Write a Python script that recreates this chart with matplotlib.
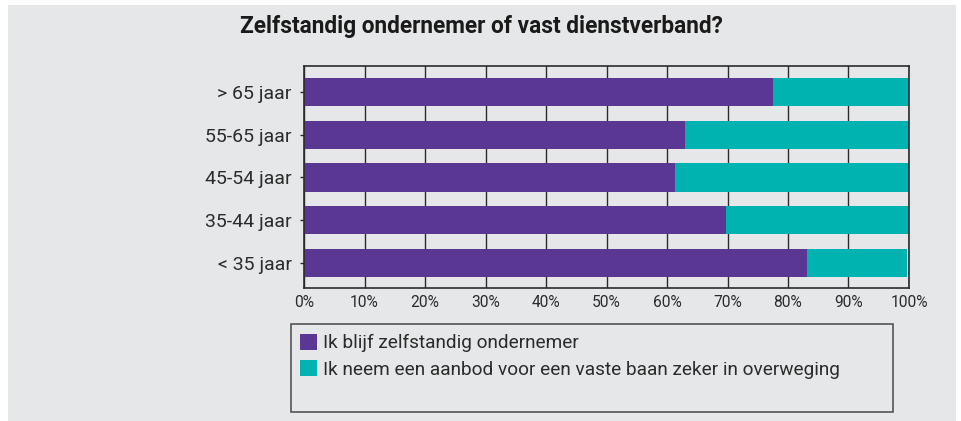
import matplotlib
matplotlib.use("Agg")
import matplotlib.pyplot as plt
from matplotlib.patches import Rectangle, Patch

categories = ["< 35 jaar", "35-44 jaar", "45-54 jaar", "55-65 jaar", "> 65 jaar"]
blijf = [83.1, 69.7, 61.4, 63.0, 77.5]
vaste_baan = [16.6, 30.3, 38.6, 37.0, 22.5]
series_labels = ["Ik blijf zelfstandig ondernemer",
                 "Ik neem een aanbod voor een vaste baan zeker in overweging"]
xticks = [0, 10, 20, 30, 40, 50, 60, 70, 80, 90, 100]
xticklabels = [f"{v}%" for v in xticks]
title = "Zelfstandig ondernemer of vast dienstverband?"

PURPLE = "#5b3794"
TEAL = "#00b2b0"
BG = "#e6e7e8"
DARK = "#2b2b2b"

plt.rcParams['font.family'] = ['Roboto', 'DejaVu Sans']

W, H = 962, 421
fig = plt.figure(figsize=(W / 100, H / 100), dpi=100)
fig.patch.set_facecolor("white")

def fx(px):
    return px / W

def fy(py):
    return 1 - py / H

# grey panel (background axes)
bgax = fig.add_axes([fx(8), 0, fx(956) - fx(8), fy(5)], zorder=-5)
bgax.set_facecolor(BG)
bgax.set_xticks([])
bgax.set_yticks([])
for s in bgax.spines.values():
    s.set_visible(False)

ax = fig.add_axes([fx(304), fy(288), fx(909) - fx(304), fy(66) - fy(288)], zorder=2)
ax.patch.set_alpha(0)

y = list(range(len(categories)))
ax.barh(y, blijf, height=0.66, color=PURPLE, zorder=2)
ax.barh(y, vaste_baan, left=blijf, height=0.66, color=TEAL, zorder=2)

ax.set_xlim(0, 100)
ax.set_ylim(-0.59, 4.61)
ax.set_xticks(xticks)
ax.set_xticklabels(xticklabels, fontsize=11.2, color=DARK)
ax.set_yticks(y)
ax.set_yticklabels(categories, fontsize=14, color=DARK)
ax.tick_params(axis="x", length=0, pad=5)
ax.tick_params(axis="y", length=3, width=1, color=DARK, pad=6)
ax.grid(axis="x", color=DARK, linewidth=1, zorder=1)
ax.set_axisbelow(True)
for s in ax.spines.values():
    s.set_color(DARK)
    s.set_linewidth(1.2)

fig.text(fx(481), fy(27), title, ha="center", va="center", fontsize=16.3,
         fontweight="bold", color="#1a1a1a", zorder=5)

# legend box
fig.patches.append(Rectangle((fx(291.5), fy(411.5)), fx(893) - fx(291.5), fy(324) - fy(411.5),
                             transform=fig.transFigure, facecolor="none",
                             edgecolor="#555555", linewidth=1.2, zorder=3))
handles = [Patch(facecolor=PURPLE, edgecolor="none"), Patch(facecolor=TEAL, edgecolor="none")]
fig.legend(handles, series_labels, loc="upper left", bbox_to_anchor=(fx(300), fy(334)),
           frameon=False, fontsize=13.7, handlelength=0.9, handleheight=0.9,
           handletextpad=0.3, labelspacing=0.4, borderpad=0, borderaxespad=0,
           labelcolor=DARK)

fig.savefig("out.png", dpi=100, facecolor=fig.get_facecolor())
